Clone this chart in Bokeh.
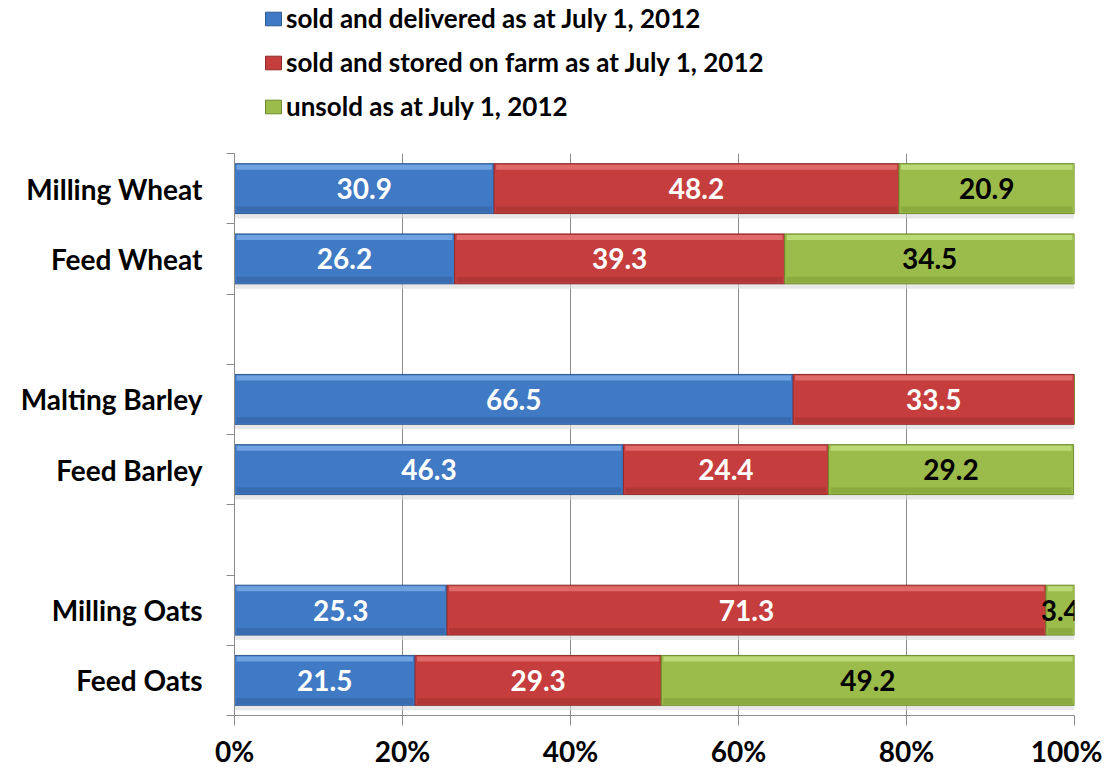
from bokeh.plotting import figure
from bokeh.models import ColumnDataSource, Range1d, FixedTicker, Legend, LegendItem
from bokeh.layouts import column
from bokeh.core.properties import value
from bokeh.embed import file_html
from bokeh.resources import INLINE

# ---- data ----
crops = ["Milling Wheat", "Feed Wheat", "Malting Barley", "Feed Barley", "Milling Oats", "Feed Oats"]
delivered = [30.9, 26.2, 66.5, 46.3, 25.3, 21.5]
stored = [48.2, 39.3, 33.5, 24.4, 71.3, 29.3]
unsold = [20.9, 34.5, 0.0, 29.2, 3.4, 49.2]
series_labels = ["sold and delivered as at July 1, 2012",
                 "sold and stored on farm as at July 1, 2012",
                 "unsold as at July 1, 2012"]
x_ticks = [0, 20, 40, 60, 80, 100]
x_tick_labels = ["0%", "20%", "40%", "60%", "80%", "100%"]

# row layout (None = empty gap row between groups)
rows = ["Milling Wheat", "Feed Wheat", None, "Malting Barley", "Feed Barley", None, "Milling Oats", "Feed Oats"]

FONT = "Lato"
fills = ["#4079c4", "#c63d3d", "#9bbb4a"]
lines = ["#2f5a92", "#8e2a2a", "#6d8a2c"]
lights = ["#6fa2e0", "#e06a6a", "#bcd978"]
darks = ["#3465a8", "#a83333", "#84a23c"]
text_cols = ["white", "white", "black"]

ypos = [rows.index(c) for c in crops]
keys = ["delivered", "stored", "unsold"]
src = ColumnDataSource(dict(y=ypos, delivered=delivered, stored=stored, unsold=unsold))

# ---------- legend strip (top) ----------
# the same stacked bars are drawn here but kept outside the visible y-range;
# only the legend of this strip is seen
lg = figure(width=1102, height=153, output_backend="svg", toolbar_location=None,
            x_range=Range1d(0, 100), y_range=Range1d(100, 101),
            x_axis_location=None, y_axis_location=None,
            min_border_left=234, min_border_right=28, min_border_top=0, min_border_bottom=0)
lg.outline_line_color = None
lg.xgrid.grid_line_color = None
lg.ygrid.grid_line_color = None
leg_rs = lg.hbar_stack(keys, y="y", height=0.71, fill_color=fills, line_color=lines, source=src)
legend = Legend(items=[LegendItem(label=series_labels[k], renderers=[leg_rs[k]]) for k in range(3)],
                location=(29, 31), orientation="vertical",
                label_text_font=FONT, label_text_font_style="bold", label_text_font_size="26px",
                label_text_color="black",
                glyph_width=20, glyph_height=17, label_standoff=3, spacing=12,
                padding=0, margin=0, border_line_color=None, background_fill_alpha=0)
lg.add_layout(legend)

# ---------- main chart ----------
p = figure(width=1102, height=617, output_backend="svg", toolbar_location=None,
           x_range=Range1d(0, 100), y_range=Range1d(len(rows) - 0.5, -0.5),
           min_border_left=234, min_border_right=28, min_border_top=0, min_border_bottom=52)
p.outline_line_color = None
p.background_fill_color = "white"

BAR_H = 0.71
# soft shadow under bars
p.hbar(y=[y + BAR_H / 2 + 0.035 for y in ypos], left=0,
       right=[a + b + c for a, b, c in zip(delivered, stored, unsold)],
       height=0.07, fill_color="#d9d9d9", fill_alpha=0.6, line_color=None)

rs = p.hbar_stack(keys, y="y", height=BAR_H, fill_color=fills, line_color=lines,
                  line_width=1, source=src)

# bevel highlights / shading and value labels
vals = [delivered, stored, unsold]
lefts = [0.0] * len(crops)
for k in range(3):
    L = list(lefts)
    R = [l + v for l, v in zip(L, vals[k])]
    keep = [i for i in range(len(crops)) if vals[k][i] > 0]
    p.hbar(y=[ypos[i] - BAR_H / 2 + 0.05 for i in keep], left=[L[i] + 0.25 for i in keep],
           right=[R[i] - 0.25 for i in keep], height=0.07, fill_color=lights[k], line_color=None)
    p.hbar(y=[ypos[i] + BAR_H / 2 - 0.06 for i in keep], left=[L[i] + 0.25 for i in keep],
           right=[R[i] - 0.25 for i in keep], height=0.08, fill_color=darks[k], line_color=None, fill_alpha=0.7)
    p.text(x=[(L[i] + R[i]) / 2 for i in keep], y=[ypos[i] for i in keep],
           text=["%.1f" % vals[k][i] for i in keep], text_align="center", text_baseline="middle",
           text_font=value(FONT), text_font_style="bold", text_font_size="28px",
           text_color=text_cols[k])
    lefts = R

# axes
p.xaxis.ticker = FixedTicker(ticks=x_ticks)
p.xaxis.major_label_overrides = {t: l for t, l in zip(x_ticks, x_tick_labels)}
p.xaxis.axis_line_color = "#8c8c8c"
p.xaxis.major_tick_line_color = "#8c8c8c"
p.xaxis.major_tick_out = 10
p.xaxis.major_tick_in = 0
p.xaxis.minor_tick_line_color = None
p.xaxis.major_label_standoff = 8
p.xaxis.major_label_text_font = FONT
p.xaxis.major_label_text_font_style = "bold"
p.xaxis.major_label_text_font_size = "28px"
p.xaxis.major_label_text_color = "black"

centers = list(range(len(rows)))
bounds = [i - 0.5 for i in range(len(rows) + 1)]
p.yaxis.ticker = FixedTicker(ticks=centers, minor_ticks=bounds)
p.yaxis.major_label_overrides = {i: (r if r else "") for i, r in enumerate(rows)}
p.yaxis.axis_line_color = "#8c8c8c"
p.yaxis.major_tick_line_color = None
p.yaxis.major_tick_out = 0
p.yaxis.major_tick_in = 0
p.yaxis.minor_tick_line_color = "#8c8c8c"
p.yaxis.minor_tick_out = 8
p.yaxis.minor_tick_in = 0
p.yaxis.major_label_standoff = 24
p.yaxis.major_label_text_font = FONT
p.yaxis.major_label_text_font_style = "bold"
p.yaxis.major_label_text_font_size = "28px"
p.yaxis.major_label_text_color = "black"

p.xgrid.grid_line_color = "#8c8c8c"
p.ygrid.grid_line_color = None

layout = column(lg, p, spacing=0)
open("out.html", "w").write(file_html(layout, INLINE))
